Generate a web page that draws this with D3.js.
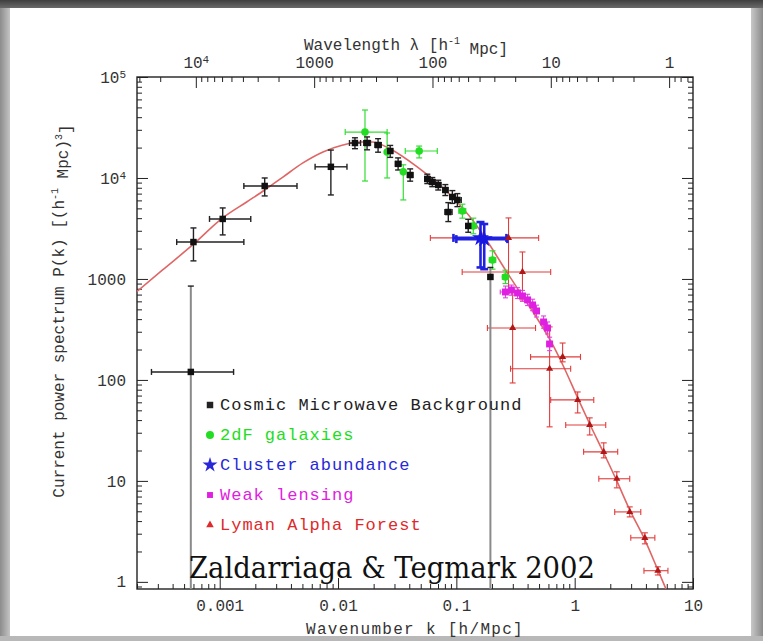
<!DOCTYPE html>
<html>
<head>
<meta charset="utf-8">
<script src="https://cdn.jsdelivr.net/npm/d3@7"></script>
<style>
  html, body { margin: 0; padding: 0; background: #fff; }
  svg { display: block; }
</style>
</head>
<body>
<svg id="chart" width="763" height="641"></svg>
<script>
// ---- Data -------------------------------------------------------------
// Axis ranges (k in h/Mpc, P(k) in (h^-1 Mpc)^3)
const kDomain = [2e-4, 10];
const pDomain = [0.85, 1e5];

// Tick labels
const kTickValues = [0.001, 0.01, 0.1, 1, 10];
const lambdaTickValues = [1e4, 1000, 100, 10, 1];
const pTickValues = [1, 10, 100, 1000, 1e4, 1e5];

// Linear theory power spectrum (k, P)
const theoryK = [1.98e-4, 3.29e-4, 5.9e-4, 1.06e-3, 1.69e-3, 2.40e-3, 3.42e-3, 5.05e-3, 7.46e-3,
  0.0110, 0.0153, 0.0194, 0.0276, 0.0467, 0.0889, 0.139, 0.194, 0.260, 0.348, 0.467, 0.627,
  0.807, 1.06, 1.34, 1.76, 2.27, 2.92, 3.92, 5.05, 5.90];
const theoryP = [743, 1228, 2170, 4020, 5780, 7600, 10200, 14100, 18100,
  21200, 22700, 22700, 19400, 12900, 6790, 3750, 2120, 1228, 726, 430, 243,
  135, 66.4, 36.6, 18.9, 10.0, 5.16, 2.61, 1.31, 0.853];

// Measurements: [k, P, kLow, kHigh, PLow, PHigh]  (PLow = 0 means consistent with zero)
const cmbPoints = [
  [5.7e-4, 120, 2.65e-4, 1.31e-3, 0, 850],
  [6.0e-4, 2320, 4.33e-4, 1.6e-3, 1510, 3200],
  [1.06e-3, 3930, 8.2e-4, 1.83e-3, 2730, 5050],
  [2.4e-3, 8330, 1.6e-3, 4.5e-3, 6640, 10000],
  [8.7e-3, 12900, 6.4e-3, 1.19e-2, 6790, 18900],
  [0.0139, 22200, 0.0125, 0.0155, 19500, 25000],
  [0.0176, 22200, 0.0165, 0.0188, 19000, 25500],
  [0.0218, 21200, 0.0205, 0.0232, 18000, 24500],
  [0.0276, 18500, 0.026, 0.029, 16000, 21000],
  [0.0322, 13800, 0.0305, 0.034, 12000, 15800],
  [0.0407, 10700, 0.0385, 0.043, 9300, 12300],
  [0.0568, 9780, 0.054, 0.060, 8800, 10900],
  [0.0626, 9120, 0.059, 0.066, 8200, 10100],
  [0.0703, 8530, 0.067, 0.074, 7600, 9500],
  [0.0807, 7600, 0.077, 0.085, 6700, 8600],
  [0.0925, 6480, 0.088, 0.098, 5600, 7500],
  [0.102, 6060, 0.097, 0.110, 5200, 7000],
  [0.0855, 4600, 0.080, 0.092, 3700, 5700],
  [0.126, 3350, 0.120, 0.133, 2900, 3900],
  [0.194, 1047, 0.186, 0.202, 0, 1300]
];
const galaxyPoints = [
  [0.0169, 28500, 0.0115, 0.026, 9330, 47100],
  [0.026, 18100, 0.026, 0.026, 10000, 27900],
  [0.0356, 11500, 0.0356, 0.0356, 6060, 13500],
  [0.0485, 18500, 0.037, 0.069, 15800, 20700],
  [0.1125, 4710, 0.105, 0.120, 4000, 5500],
  [0.139, 3350, 0.130, 0.148, 2800, 4000],
  [0.202, 1540, 0.190, 0.215, 1250, 1900],
  [0.260, 1047, 0.245, 0.275, 900, 1220]
];
const clusterPoints = [
  [0.160, 2550, 0.0945, 0.265, 1300, 3660],
  [0.172, 2480, 0.100, 0.270, 1250, 3500]
];
const lensingPoints = [
  [0.260, 743, 0.235, 0.280, 650, 850],
  [0.292, 778, 0.280, 0.305, 690, 870],
  [0.329, 726, 0.315, 0.345, 640, 820],
  [0.362, 679, 0.345, 0.380, 600, 770],
  [0.400, 620, 0.380, 0.420, 545, 705],
  [0.441, 553, 0.420, 0.465, 485, 630],
  [0.476, 482, 0.455, 0.500, 420, 550],
  [0.546, 375, 0.520, 0.575, 325, 430],
  [0.590, 327, 0.560, 0.620, 285, 375],
  [0.614, 227, 0.585, 0.645, 195, 265]
];
const lymanPoints = [
  [0.276, 2550, 0.0603, 0.496, 778, 4020],
  [0.362, 1173, 0.112, 0.627, 620, 1850],
  [0.299, 327, 0.183, 0.467, 93.3, 743],
  [0.614, 129, 0.287, 0.925, 34.3, 335],
  [0.791, 169, 0.424, 1.12, 151, 232],
  [1.06, 63.4, 0.627, 1.45, 47.1, 76],
  [1.34, 35.8, 0.84, 1.83, 28.5, 42.1],
  [1.76, 19.4, 1.19, 2.31, 16.9, 23.8],
  [2.27, 10.5, 1.60, 2.92, 8.53, 12.3],
  [2.92, 4.93, 2.18, 3.62, 4.40, 5.53],
  [3.92, 2.73, 2.98, 4.76, 2.38, 3.06],
  [5.05, 1.29, 3.85, 6.14, 1.17, 1.41]
];

const legendLabels = ["Cosmic Microwave Background", "2dF galaxies", "Cluster abundance",
  "Weak lensing", "Lyman Alpha Forest"];
const legendColors = ["#222222", "#22dd22", "#2828d8", "#e020e0", "#dd2a2a"];
const creditText = "Zaldarriaga & Tegmark 2002";

// ---- Layout -----------------------------------------------------------
const svg = d3.select("#chart");
const W = 763, H = 641;
const plot = { left: 137, right: 693, top: 77, bottom: 589 };
const monoFont = "'Liberation Mono', 'DejaVu Sans Mono', monospace";

// Slide frame
const defs = svg.append("defs");
const gTop = defs.append("linearGradient").attr("id", "topBand").attr("x1", 0).attr("x2", 0).attr("y1", 0).attr("y2", 1);
gTop.append("stop").attr("offset", "0%").attr("stop-color", "#3f3f3f");
gTop.append("stop").attr("offset", "100%").attr("stop-color", "#6a6a6a");
const gSide = defs.append("linearGradient").attr("id", "sideBand").attr("x1", 0).attr("x2", 1).attr("y1", 0).attr("y2", 0);
gSide.append("stop").attr("offset", "0%").attr("stop-color", "#8c8c8c");
gSide.append("stop").attr("offset", "100%").attr("stop-color", "#c4c4c4");
const gRight = defs.append("linearGradient").attr("id", "rightBand").attr("x1", 0).attr("x2", 1).attr("y1", 0).attr("y2", 0);
gRight.append("stop").attr("offset", "0%").attr("stop-color", "#c8c8c8");
gRight.append("stop").attr("offset", "100%").attr("stop-color", "#8a8a8a");

svg.append("rect").attr("width", W).attr("height", H).attr("fill", "#fff");
svg.append("rect").attr("x", 0).attr("y", 0).attr("width", 10).attr("height", H).attr("fill", "url(#sideBand)");
svg.append("rect").attr("x", W - 12).attr("y", 0).attr("width", 12).attr("height", H).attr("fill", "url(#rightBand)");
svg.append("rect").attr("x", 0).attr("y", H - 5).attr("width", W).attr("height", 5).attr("fill", "#b8b8b8");
svg.append("rect").attr("x", 0).attr("y", 0).attr("width", W).attr("height", 8).attr("fill", "url(#topBand)");

// Scales
const x = d3.scaleLog().domain(kDomain).range([plot.left, plot.right]);
const y = d3.scaleLog().domain(pDomain).range([plot.bottom, plot.top]);
const lambda = d3.scaleLog()
  .domain([2 * Math.PI / kDomain[0], 2 * Math.PI / kDomain[1]])
  .range([plot.left, plot.right]);

function minorTicks(lo, hi) {
  const a = Math.min(lo, hi), b = Math.max(lo, hi);
  const out = [];
  for (let e = Math.floor(Math.log10(a)) - 1; e <= Math.ceil(Math.log10(b)); e++) {
    for (let m = 2; m <= 9; m++) {
      const v = m * Math.pow(10, e);
      if (v >= a && v <= b) out.push(v);
    }
  }
  return out;
}

// Label with optional exponent
function powerLabel(sel, v) {
  const e = Math.round(Math.log10(v));
  sel.text(null);
  if (e >= 4) {
    sel.append("tspan").text("10");
    sel.append("tspan").attr("dy", "-0.45em").attr("font-size", "11px").text(e);
  } else {
    sel.text(d3.format("~g")(v));
  }
}

const axesG = svg.append("g").attr("font-family", monoFont).attr("font-size", 16).attr("fill", "#333");

function styleAxis(g) {
  g.select(".domain").remove();
  g.selectAll(".tick line").attr("stroke", "#222").attr("stroke-width", 1);
  g.selectAll(".tick text").attr("fill", "#333").attr("font-family", monoFont).attr("font-size", 16);
}

// Bottom: wavenumber
axesG.append("g").attr("transform", `translate(0,${plot.bottom})`)
  .call(d3.axisBottom(x).tickValues(minorTicks(...kDomain)).tickSizeInner(-5).tickSizeOuter(0).tickFormat(""))
  .call(styleAxis);
axesG.append("g").attr("transform", `translate(0,${plot.bottom})`)
  .call(d3.axisBottom(x).tickValues(kTickValues).tickSizeInner(-11).tickSizeOuter(0).tickPadding(11)
    .tickFormat(d => d3.format("~g")(d)))
  .call(styleAxis);

// Top: wavelength
const lamDomain = lambda.domain();
axesG.append("g").attr("transform", `translate(0,${plot.top})`)
  .call(d3.axisTop(lambda).tickValues(minorTicks(...lamDomain)).tickSizeInner(-5).tickSizeOuter(0).tickFormat(""))
  .call(styleAxis);
const topAxis = axesG.append("g").attr("transform", `translate(0,${plot.top})`)
  .call(d3.axisTop(lambda).tickValues(lambdaTickValues).tickSizeInner(-11).tickSizeOuter(0).tickPadding(9))
  .call(styleAxis);
topAxis.selectAll(".tick text").each(function(d) { powerLabel(d3.select(this), d); });

// Left: power
axesG.append("g").attr("transform", `translate(${plot.left},0)`)
  .call(d3.axisLeft(y).tickValues(minorTicks(...pDomain)).tickSizeInner(-5).tickSizeOuter(0).tickFormat(""))
  .call(styleAxis);
const leftAxis = axesG.append("g").attr("transform", `translate(${plot.left},0)`)
  .call(d3.axisLeft(y).tickValues(pTickValues).tickSizeInner(-11).tickSizeOuter(0).tickPadding(11))
  .call(styleAxis);
leftAxis.selectAll(".tick text").each(function(d) { powerLabel(d3.select(this), d); });

// Right: mirrored ticks
axesG.append("g").attr("transform", `translate(${plot.right},0)`)
  .call(d3.axisRight(y).tickValues(minorTicks(...pDomain)).tickSizeInner(-5).tickSizeOuter(0).tickFormat(""))
  .call(styleAxis);
axesG.append("g").attr("transform", `translate(${plot.right},0)`)
  .call(d3.axisRight(y).tickValues(pTickValues).tickSizeInner(-11).tickSizeOuter(0).tickFormat(""))
  .call(styleAxis);

// Frame
svg.append("rect")
  .attr("x", plot.left).attr("y", plot.top)
  .attr("width", plot.right - plot.left).attr("height", plot.bottom - plot.top)
  .attr("fill", "none").attr("stroke", "#222").attr("stroke-width", 1.4);

// Axis titles
function supTitle(sel, parts) {
  parts.forEach(([t, kind]) => {
    const ts = sel.append("tspan").text(t);
    if (kind === "sup") ts.attr("font-size", "10px").attr("dy", "-0.6em");
    if (kind === "back") ts.attr("dy", "0.6em");
  });
}
const topTitle = svg.append("text")
  .attr("x", 406).attr("y", 50).attr("text-anchor", "middle")
  .attr("font-family", monoFont).attr("font-size", 16).attr("fill", "#333");
supTitle(topTitle, [["Wavelength λ [h", ""], ["-1", "sup"], [" Mpc]", "back"]]);

svg.append("text")
  .attr("x", 415).attr("y", 634).attr("text-anchor", "middle")
  .attr("font-family", monoFont).attr("font-size", 16).attr("letter-spacing", 1.3).attr("fill", "#333")
  .text("Wavenumber k [h/Mpc]");

const leftTitle = svg.append("text")
  .attr("transform", "translate(64,311) rotate(-90)").attr("text-anchor", "middle")
  .attr("font-family", monoFont).attr("font-size", 16).attr("fill", "#333");
supTitle(leftTitle, [["Current power spectrum P(k) [(h", ""], ["-1", "sup"], [" Mpc)", "back"], ["3", "sup"], ["]", "back"]]);

// ---- Data layers ------------------------------------------------------
defs.append("clipPath").attr("id", "plotClip").append("rect")
  .attr("x", plot.left).attr("y", plot.top)
  .attr("width", plot.right - plot.left).attr("height", plot.bottom - plot.top);
const dataG = svg.append("g").attr("clip-path", "url(#plotClip)");

// Theory curve
const theory = theoryK.map((k, i) => [k, theoryP[i]]);
dataG.append("path")
  .datum(theory)
  .attr("fill", "none").attr("stroke", "#e06666").attr("stroke-width", 1.6)
  .attr("d", d3.line().x(d => x(d[0])).y(d => y(d[1])).curve(d3.curveMonotoneX));

function errorBars(points, color, width, cap, zeroColor) {
  const g = dataG.append("g").attr("stroke", color).attr("stroke-width", width).attr("fill", "none");
  points.forEach(([k, P, kl, kh, pl, ph]) => {
    const cx = x(k), cy = y(P);
    if (kl < kh) {
      g.append("line").attr("x1", x(kl)).attr("x2", x(kh)).attr("y1", cy).attr("y2", cy);
      [kl, kh].forEach(v => g.append("line").attr("x1", x(v)).attr("x2", x(v)).attr("y1", cy - cap).attr("y2", cy + cap));
    }
    if (pl < ph) {
      const toZero = pl <= 0;
      const yl = toZero ? plot.bottom + 2 : y(pl);
      g.append("line").attr("x1", cx).attr("x2", cx).attr("y1", yl).attr("y2", y(ph))
        .attr("stroke", toZero && zeroColor ? zeroColor : null)
        .attr("stroke-width", toZero ? 2 : null);
      g.append("line").attr("x1", cx - cap).attr("x2", cx + cap).attr("y1", y(ph)).attr("y2", y(ph));
      if (!toZero) g.append("line").attr("x1", cx - cap).attr("x2", cx + cap).attr("y1", yl).attr("y2", yl);
    }
  });
}

function markers(points, type, size, color) {
  dataG.append("g").selectAll("path").data(points).join("path")
    .attr("transform", d => `translate(${x(d[0])},${y(d[1])})`)
    .attr("d", d3.symbol().type(type).size(size))
    .attr("fill", color);
}

errorBars(lymanPoints, "#e23c3c", 1.1, 3);
errorBars(galaxyPoints, "#33dd33", 1.2, 3);
errorBars(cmbPoints, "#222", 1.4, 3, "#8a8a8a");
errorBars(lensingPoints, "#e040e0", 1.1, 2.5);
errorBars(clusterPoints, "#2020e0", 2.6, 4);

markers(galaxyPoints, d3.symbolCircle, 45, "#22dd22");
markers(cmbPoints, d3.symbolSquare, 42, "#111");
markers(lensingPoints, d3.symbolSquare, 48, "#e020e0");
markers(lymanPoints, d3.symbolTriangle, 22, "#b01818");
markers(clusterPoints, d3.symbolStar, 90, "#1818e0");

// ---- Legend -----------------------------------------------------------
const legendTypes = [d3.symbolSquare, d3.symbolCircle, d3.symbolStar, d3.symbolSquare, d3.symbolTriangle];
const legendSizes = [42, 50, 70, 35, 25];
const legendG = svg.append("g");
legendLabels.forEach((label, i) => {
  const ly = 405 + i * 30;
  legendG.append("path")
    .attr("transform", `translate(210,${ly})`)
    .attr("d", d3.symbol().type(legendTypes[i]).size(legendSizes[i]))
    .attr("fill", legendColors[i]);
  legendG.append("text")
    .attr("x", 220).attr("y", ly + 5)
    .attr("font-family", monoFont).attr("font-size", 17).attr("letter-spacing", 1)
    .attr("fill", legendColors[i])
    .text(label);
});

// Credit line
svg.append("text")
  .attr("x", 189).attr("y", 578)
  .attr("font-family", "'DejaVu Serif', 'Liberation Serif', serif")
  .attr("font-size", 29).attr("fill", "#111")
  .attr("textLength", 406).attr("lengthAdjust", "spacingAndGlyphs")
  .text(creditText);
</script>
</body>
</html>
